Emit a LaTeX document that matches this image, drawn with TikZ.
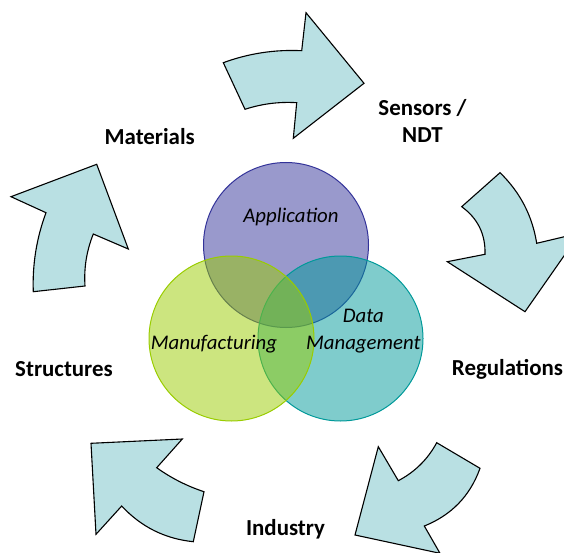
\documentclass[tikz,border=0pt]{standalone}
\usepackage{fontspec}
\setmainfont{Carlito}
\definecolor{arrowfill}{RGB}{185,224,227}
\definecolor{appcol}{RGB}{51,51,153}
\definecolor{mancol}{RGB}{153,204,0}
\definecolor{datacol}{RGB}{0,153,153}
\begin{document}
\begin{tikzpicture}[x=1pt,y=-1pt,
  cyclearrow/.style={fill=arrowfill, draw=black, line width=1.1pt, line join=miter},
  venn/.style={circle, inner sep=0pt, minimum size=165pt, line width=1pt,
    draw=#1, fill=#1, fill opacity=0.5, draw opacity=1},
  stage/.style={font=\fontsize{22.9}{27}\selectfont\bfseries, inner sep=0pt, anchor=base, align=center},
  area/.style={font=\fontsize{20.8}{26.6}\selectfont\itshape, inner sep=0pt, anchor=base, align=center, text opacity=1}]
\useasboundingbox (0,0) rectangle (564,553);
\clip (0,0) rectangle (564,553);

% circular arrows around the diagram
% top: Materials -> Sensors / NDT
\draw[cyclearrow] (223.3,62.7) .. controls (248.6,53.4) and (274.8,49.4) .. (301.7,50.7)
  -- (306,12.7) -- (364,83.3) -- (293.3,138.3) -- (296.7,102.7)
  .. controls (279.0,101.6) and (261.8,103.8) .. (245,109.3) -- cycle;
% right: Sensors / NDT -> Regulations
\draw[cyclearrow] (461.7,206.7) -- (500,172.7)
  .. controls (520.1,192.2) and (532.3,215.7) .. (536.7,243.3)
  -- (580,233) -- (525,311.7) -- (447.3,261.7) -- (485,254.3)
  .. controls (485.6,234.3) and (477.8,218.4) .. cycle;
% bottom right: Regulations -> Industry
\draw[cyclearrow] (436.7,442.7) -- (480,468.3)
  .. controls (470.1,495.9) and (451.5,515.1) .. (424.3,526)
  -- (440,553.3) -- (355,535) -- (378.3,446.7) -- (398.3,480.7)
  .. controls (415,471.9) and (427.8,459.2) .. cycle;
% bottom left: Industry -> Structures
\draw[cyclearrow] (91,443.3) -- (182.3,439) -- (156.7,467.7)
  .. controls (171.2,478.1) and (187,486.1) .. (204,491.7)
  -- (193.3,541.7) .. controls (165,538.8) and (141.1,526.9) .. (121.7,506)
  -- (96,534.3) -- cycle;
% left: Structures -> Materials
\draw[cyclearrow] (11,196.7) -- (96.7,164.3) -- (128.3,249) -- (93.3,234)
  .. controls (86.6,250.7) and (83.8,268) .. (85,286) -- (33.3,291.7)
  .. controls (32.3,264.5) and (36.5,238.2) .. (46,212.7) -- cycle;

% overlapping circles
\node[venn=appcol] (app) at (286,245) {};
\node[venn=datacol] (data) at (340.5,338.5) {};
\node[venn=mancol] (man) at (231.5,338.5) {};

\node[area] (applabel) at (291,222.7) {Application};
\node[area] (manlabel) at (214,349.3) {Manufacturing};
\node[area] (datalabel) at (363.3,349.3) {Data\\Management};

% stage labels
\node[stage] (materials) at (149.7,145) {Materials};
\node[stage] (sensors) at (422.5,143) {Sensors /\\NDT};
\node[stage] (regulations) at (507.5,375.7) {Regulations};
\node[stage] (industry) at (285.5,535) {Industry};
\node[stage] (structures) at (64,376.7) {Structures};
\end{tikzpicture}
\end{document}
